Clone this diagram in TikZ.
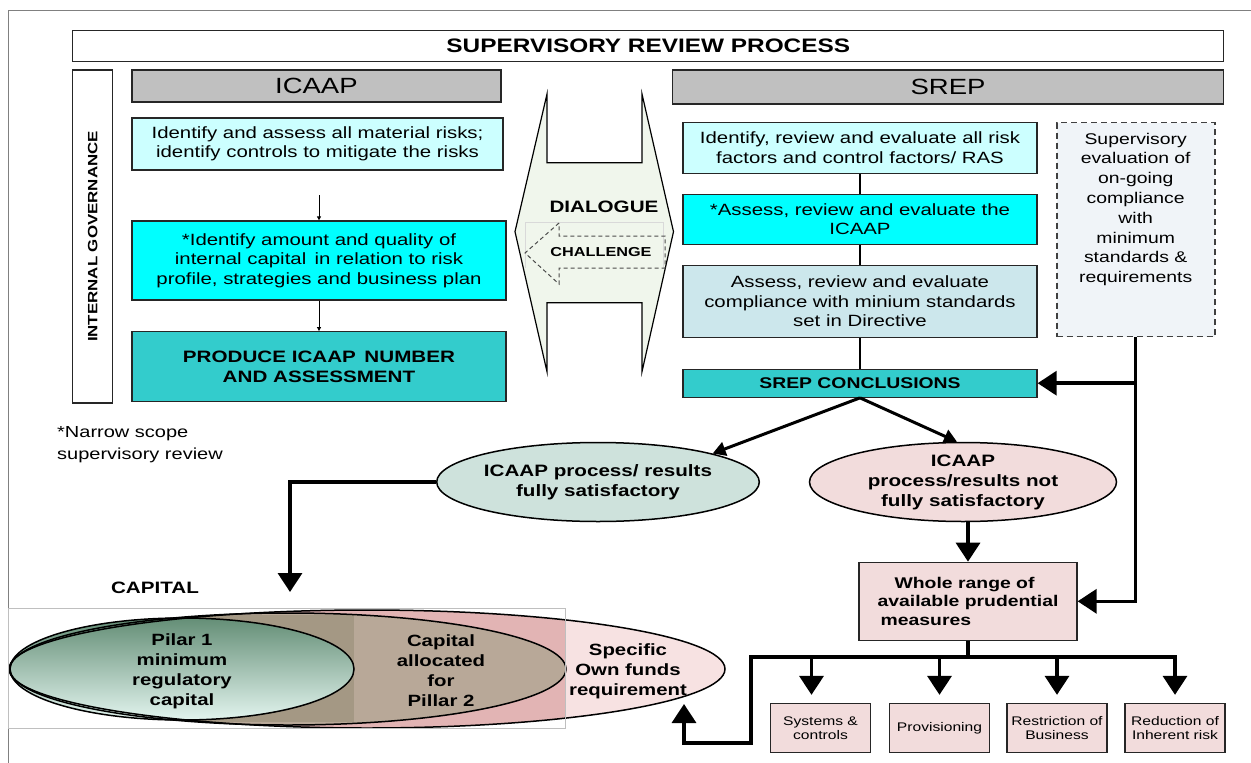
\documentclass[tikz,border=0pt]{standalone}
\usepackage{fontspec}
\setmainfont{Liberation Sans}[FakeStretch=1.25]
\usetikzlibrary{arrows.meta,shapes.geometric,calc}
\definecolor{lcyan}{RGB}{204,255,255}
\definecolor{bcyan}{RGB}{0,255,255}
\definecolor{tealA}{RGB}{51,204,204}
\definecolor{hgray}{RGB}{192,192,192}
\definecolor{sblue}{RGB}{204,231,236}
\definecolor{dlg}{RGB}{240,246,236}
\definecolor{supbg}{RGB}{240,244,248}
\definecolor{egreen}{RGB}{206,226,220}
\definecolor{epink}{RGB}{242,220,220}
\definecolor{cpinkL}{RGB}{247,226,226}
\definecolor{cpinkD}{RGB}{226,180,180}
\definecolor{cbrown}{RGB}{184,168,152}
\definecolor{cbrownD}{RGB}{164,152,132}
\newcommand\myfs[2]{\fontsize{#1}{#2}\selectfont}
\begin{document}
\begin{tikzpicture}[x=1pt,y=-1pt,
  box/.style={draw=black!85, line width=1.3pt, inner sep=0pt, align=center, font=\myfs{16.3}{19.5}},
  bigline/.style={line width=3.5pt},
  bigarrow/.style={line width=3.5pt, -{Triangle[length=19pt,width=24pt]}},
  midarrow/.style={line width=3pt, -{Triangle[length=13pt,width=14pt]}},
  thinarrow/.style={line width=1pt, -{Triangle[length=4pt,width=4pt]}},
  thinline/.style={line width=1.3pt},
  bigell/.style={ellipse, draw=black, line width=1.5pt, inner sep=0pt, minimum width=307pt, minimum height=79pt, align=center, font=\bfseries\myfs{16.5}{20}},
  smallbox/.style={draw=black!85, line width=1.3pt, inner sep=0pt, align=center, fill=epink, minimum width=100pt, minimum height=49pt, font=\myfs{12.5}{14.5}},
  captext/.style={align=center, font=\bfseries\myfs{16.3}{20}},
]
\useasboundingbox (0,0) rectangle (1251,763);
% outer frame
\draw[gray, line width=0.8pt] (8,763) -- (8,10) -- (1251,10);

% title and headers
\node[box, minimum width=1151pt, minimum height=31pt, font=\bfseries\myfs{19.5}{24}] (title) at (648.3,46.2) {SUPERVISORY REVIEW PROCESS};
\node[box, rotate=90, minimum width=333pt, minimum height=40pt, font=\bfseries\myfs{13.5}{16}] (ig) at (92.7,236.5) {INTERNAL GOVERNANCE};
\node[box, fill=hgray, minimum width=369pt, minimum height=32pt, font=\myfs{22}{24}] (icaaph) at (316.4,86) {ICAAP};
\node[box, fill=hgray, minimum width=551pt, minimum height=34pt, font=\myfs{22}{24}] (ssreph) at (948,87) {SREP};

% ICAAP column
\node[box, fill=lcyan, minimum width=371pt, minimum height=52pt] (a1) at (317.5,144) {Identify and assess all material risks;\\identify controls to mitigate the risks};
\node[box, fill=bcyan, minimum width=374pt, minimum height=79pt] (a2) at (319,260.5) {*Identify amount and quality of\\internal capital\, in relation to risk\\profile, strategies and business plan};
\node[box, fill=tealA, minimum width=374pt, minimum height=70pt, font=\bfseries\myfs{16.5}{20}] (a3) at (319,366.7) {PRODUCE ICAAP\, NUMBER\\AND ASSESSMENT};
\coordinate (c1) at (319,195);
\draw[thinarrow] (c1) -- (a2.north);
\draw[thinarrow] (a2.south) -- (a3.north);

% dialogue double arrow
\draw[line width=1.2pt, fill=dlg, line join=miter] (547,94) -- (515,231.7) -- (547,371.7) -- (547,302.7) -- (642,302.7) -- (642,371.7) -- (673.5,231.7) -- (642,94) -- (642,162.7) -- (547,162.7) -- cycle;
\draw[gray!30, line width=0.5pt] (525.5,268) -- (525.5,222) -- (663,222) -- (663,268);
\node[font=\bfseries\myfs{16.5}{18}] (dtext) at (604,207) {DIALOGUE};
\draw[black!70, line width=1pt, dash pattern=on 4pt off 3pt] (559,223) -- (525,253) -- (559,284) -- (559,268) -- (665,268) -- (665,236) -- (559,236) -- cycle;
\node[font=\bfseries\myfs{13}{16}] (ctext) at (601,252) {CHALLENGE};

% SREP column
\node[box, fill=lcyan, minimum width=354pt, minimum height=51pt] (s1) at (860,147.8) {Identify, review and evaluate all risk\\factors and control factors/ RAS};
\node[box, fill=bcyan, minimum width=354pt, minimum height=50pt] (s2) at (860,219.2) {*Assess, review and evaluate the\\ICAAP};
\node[box, fill=sblue, minimum width=354pt, minimum height=72pt] (s3) at (860,301.5) {Assess, review and evaluate\\compliance with minium standards\\set in Directive};
\node[box, fill=tealA, minimum width=354pt, minimum height=28pt, font=\bfseries\myfs{15.5}{18}] (sc) at (860,383.2) {SREP CONCLUSIONS};
\draw[thinline] (s1.south) -- (s2.north);
\draw[thinline] (s2.south) -- (s3.north);
\draw[thinline] (s3.south) -- (sc.north);

\node[draw=black!75, line width=1.6pt, dash pattern=on 6pt off 4pt, fill=supbg, minimum width=158pt, minimum height=214pt, inner sep=0pt] (sup) at (1135.7,229.5) {};
\node[anchor=north, align=center, inner sep=0pt, font=\myfs{15.5}{19.8}] (suptext) at ([yshift=-11pt]sup.north) {Supervisory\\evaluation of\\on-going\\compliance\\with\\minimum\\standards \&\\requirements};

% outcome ellipses
\node[bigell, fill=egreen] (e1) at (598,482) {ICAAP process/ results\\fully satisfactory};
\node[bigell, fill=epink] (e2) at (963,482) {ICAAP\\process/results not\\fully satisfactory};
\draw[midarrow] (sc.south) -- (e1.north east);
\draw[midarrow] (sc.south) -- ([xshift=-6pt]e2.north);

% prudential measures
\node[box, fill=epink, minimum width=218pt, minimum height=78pt, align=left, font=\bfseries\myfs{15.5}{18.5}] (wr) at (968,601.3) {\hspace*{1.1em}Whole range of\\available prudential\\\hspace*{0.2em}measures};
\draw[bigarrow] (e2.south -| wr.north) -- (wr.north);

\coordinate (j1) at (sup.south |- sc.east);
\draw[bigarrow] (sup.south) |- (wr.east);
\draw[bigarrow] (j1) -- (sc.east);

\node[smallbox] (m1) at (820.5,728) {Systems \&\\controls};
\node[smallbox] (m2) at (939.5,728) {Provisioning};
\node[smallbox] (m3) at (1057,728) {Restriction of\\Business};
\node[smallbox] (m4) at (1175,728) {Reduction of\\Inherent risk};

\coordinate (bus) at (968,657);
\draw[bigline] (wr.south) -- (bus);
\draw[bigarrow, shorten >=8pt] (bus) -| ([xshift=-9pt]m1.north);
\draw[bigarrow, shorten >=8pt] (bus) -| (m2.north);
\draw[bigarrow, shorten >=8pt] (bus) -| (m3.north);
\draw[bigarrow, shorten >=8pt] (bus) -| (m4.north);
\coordinate (bl) at (751,743);
\coordinate (br) at (684,743);
\coordinate (sfo) at (684,704);
\draw[bigarrow] (bus) -| (bl) -- (br) -- (sfo);

% capital
\coordinate (capt) at (290,592);
\draw[bigarrow] (e1.west) -| (capt);
\node[font=\bfseries\myfs{16.5}{18}] (captl) at (155,588) {CAPITAL};
\node[anchor=west, align=left, inner sep=0pt, font=\myfs{16}{22}] (note) at (57,445) {*Narrow scope\\supervisory review};

\fill[cpinkL] (367,669) ellipse [x radius=358pt, y radius=59pt];
\begin{scope}
  \clip (367,669) ellipse [x radius=358pt, y radius=59pt];
  \fill[cpinkD] (8,608) rectangle (565,728);
\end{scope}
\fill[cbrown] (288,669) ellipse [x radius=278pt, y radius=56pt];
\begin{scope}
  \clip (288,669) ellipse [x radius=278pt, y radius=56pt];
  \fill[cbrownD] (8,615) rectangle (354,722);
\end{scope}
\shade[top color={rgb,255:red,100;green,142;blue,118}, middle color={rgb,255:red,132;green,188;blue,166}, bottom color={rgb,255:red,226;green,244;blue,238}] (182,669) ellipse [x radius=172pt, y radius=51pt];
\draw[line width=1.5pt] (367,669) ellipse [x radius=358pt, y radius=59pt];
\draw[line width=1.5pt] (288,669) ellipse [x radius=278pt, y radius=56pt];
\draw[line width=1.5pt] (182,669) ellipse [x radius=172pt, y radius=51pt];
\draw[gray!50, line width=0.6pt] (8,608) rectangle (565,728);

\node[captext] (p1) at (182,671) {Pilar 1\\minimum\\regulatory\\capital};
\node[captext] (p2) at (441,671) {Capital\\allocated\\for\\Pillar 2};
\node[captext] (p3) at (628,671) {Specific\\Own funds\\requirement};
\end{tikzpicture}
\end{document}
